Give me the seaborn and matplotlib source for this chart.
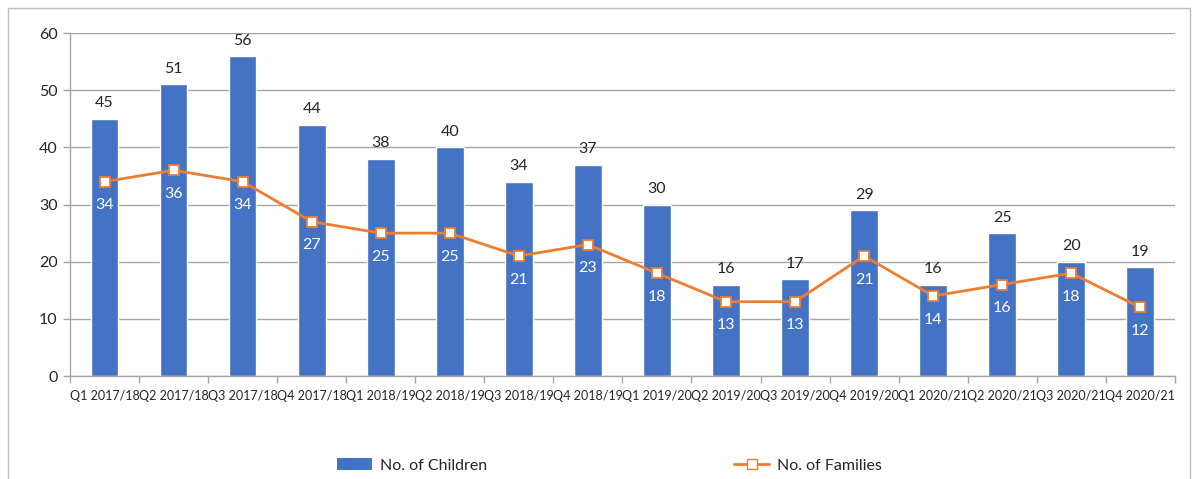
import numpy as np
import pandas as pd
import matplotlib
matplotlib.use("Agg")
import matplotlib.pyplot as plt
from matplotlib.patches import Rectangle
from matplotlib.lines import Line2D
from matplotlib.patches import Patch
import seaborn as sns

# ── Data ──────────────────────────────────────────────────────────────────────
quarters = ["Q1 2017/18", "Q2 2017/18", "Q3 2017/18", "Q4 2017/18",
            "Q1 2018/19", "Q2 2018/19", "Q3 2018/19", "Q4 2018/19",
            "Q1 2019/20", "Q2 2019/20", "Q3 2019/20", "Q4 2019/20",
            "Q1 2020/21", "Q2 2020/21", "Q3 2020/21", "Q4 2020/21"]
children = [45, 51, 56, 44, 38, 40, 34, 37, 30, 16, 17, 29, 16, 25, 20, 19]
families = [34, 36, 34, 27, 25, 25, 21, 23, 18, 13, 13, 21, 14, 16, 18, 12]

BLUE = "#4472C4"
ORANGE = "#ED7D31"
GRID = "#A6A6A6"

sns.set_theme(style="white")
plt.rcParams["font.family"] = ["Lato", "DejaVu Sans"]

df = pd.DataFrame({"Quarter": quarters, "Children": children,
                   "Families": families})
df["pos"] = np.arange(len(df))

fig = plt.figure(figsize=(11.95, 4.79), dpi=100)
ax = fig.add_axes([0.0586, 0.215, 0.9245, 0.716])

sns.barplot(data=df, x="Quarter", y="Children", color=BLUE, width=0.4,
            saturation=1, ax=ax, zorder=2)
sns.lineplot(data=df, x="pos", y="Families", color=ORANGE, lw=2,
             marker="s", markersize=7, markerfacecolor="white",
             markeredgecolor=ORANGE, markeredgewidth=1.3, ax=ax, zorder=3)

for i, v in enumerate(children):
    ax.annotate(str(v), (i, v), xytext=(0, 6), textcoords="offset points",
                ha="center", va="bottom", fontsize=11.5, color="#262626")
for i, v in enumerate(families):
    ax.annotate(str(v), (i, v), xytext=(0, -12), textcoords="offset points",
                ha="center", va="top", fontsize=11.5, color="white", zorder=4)

ax.set_xlim(-0.5, len(quarters) - 0.5)
ax.set_ylim(0, 60)
ax.set_yticks(range(0, 61, 10))
ax.yaxis.grid(True, color=GRID, lw=1, zorder=0)
ax.set_axisbelow(True)
ax.set_xlabel("")
ax.set_ylabel("")

for s in ["top", "right"]:
    ax.spines[s].set_visible(False)
for s in ["left", "bottom"]:
    ax.spines[s].set_color(GRID)
    ax.spines[s].set_linewidth(1)

ax.set_xticks(np.arange(len(quarters)))
ax.set_xticklabels(quarters, fontsize=9, color="#262626")
ax.set_xticks(np.arange(-0.5, len(quarters)), minor=True)
ax.tick_params(axis="x", which="major", length=0, pad=10)
ax.tick_params(axis="x", which="minor", length=5, color=GRID, width=1,
               bottom=True, direction="out")
ax.tick_params(axis="y", length=5, color=GRID, width=1, left=True,
               labelsize=11.5, labelcolor="#262626", pad=4)

handles = [Patch(facecolor=BLUE, edgecolor="none"),
           Line2D([0], [0], color=ORANGE, lw=2, marker="s", markersize=7,
                  markerfacecolor="white", markeredgecolor=ORANGE)]
fig.legend(handles, ["No. of Children", "No. of Families"], ncol=2,
           loc="center", bbox_to_anchor=(0.51, 0.028), frameon=False,
           fontsize=11.5, columnspacing=15.5, handlelength=2.2,
           handletextpad=0.5)

fig.patches.append(Rectangle((8 / 1195, -0.02), 1182 / 1195, 1.0 - 8 / 479 + 0.02,
                             transform=fig.transFigure, fill=False,
                             edgecolor="#BFBFBF", lw=1))

fig.savefig("out.png", dpi=100)
